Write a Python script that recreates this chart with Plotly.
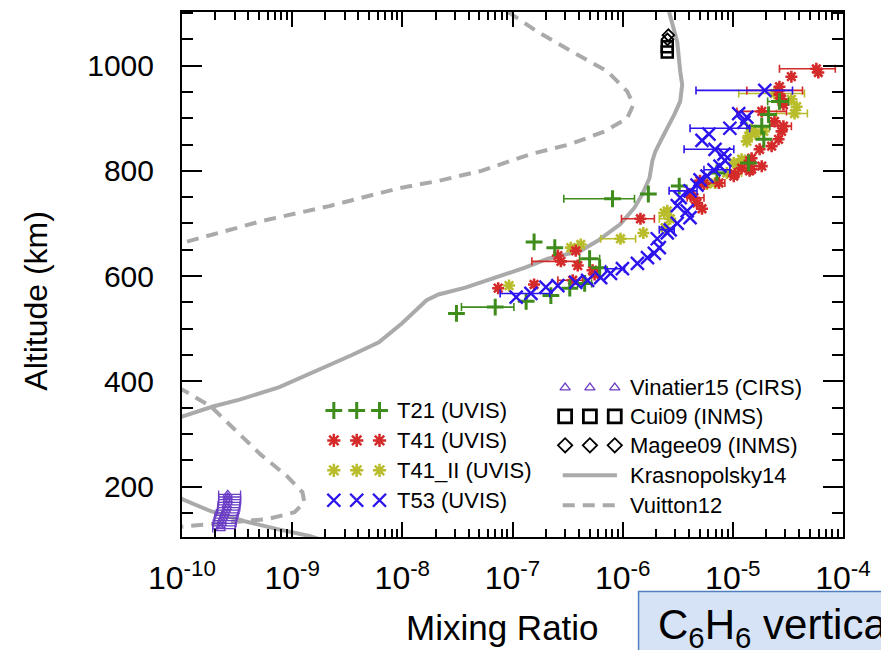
import plotly.graph_objects as go

# ---------------- data (altitude in km, mixing ratio) ----------------
kras_alt = [1102, 1045, 989, 964, 932, 907, 870, 837, 819, 786, 756, 730, 699, 667, 648, 633,
            616, 597, 578, 565, 554, 510, 474, 450, 416, 389, 365, 352, 333, 308, 250,
            176, 153, 134, 119, 106, 90]
kras_mr = [2.64e-6, 3.13e-6, 3.33e-6, 3.47e-6, 3.33e-6, 2.94e-6, 2.38e-6, 1.98e-6, 1.86e-6,
           1.75e-6, 1.51e-6, 1.28e-6, 9.55e-7, 5.93e-7, 4.16e-7, 2.09e-7, 1.30e-7, 6.97e-8,
           3.73e-8, 2.13e-8, 1.66e-8, 9.89e-9, 6.12e-9, 3.49e-9, 1.52e-9, 7.66e-10, 3.33e-10,
           1.91e-10, 1.0e-10, 5.1e-11, 3.0e-11, 1.0e-10, 1.83e-10, 3.71e-10, 7.35e-10,
           1.43e-9, 2.5e-9]

vuit_alt = [1102, 1064, 1026, 989, 951, 926, 900, 875, 851, 832, 800, 781, 767, 733, 705, 662,
            620, 500, 420, 380, 352, 303, 261, 219, 189, 170, 151, 138, 132, 123, 115]
vuit_mr = [9.12e-8, 1.70e-7, 3.52e-7, 7.29e-7, 1.10e-6, 1.25e-6, 1.10e-6, 6.85e-7, 3.38e-7,
           1.47e-7, 5.21e-8, 2.13e-8, 9.29e-9, 2.17e-9, 5.38e-10, 1.0e-10, 1.8e-11, 1.0e-12,
           5.0e-11, 1.09e-10, 1.83e-10, 3.20e-10, 5.16e-10, 9.06e-10, 1.24e-9, 1.29e-9,
           1.05e-9, 5.97e-10, 2.60e-10, 9.2e-11, 5.0e-11]

t21_alt = [529, 541, 552, 563, 577, 586, 616, 633, 654, 665, 747, 756, 771, 796, 815, 860,
           885, 907, 932]
t21_mr = [3.10e-8, 6.97e-8, 1.33e-7, 2.23e-7, 3.31e-7, 4.52e-7, 6.18e-7, 5.01e-7, 2.42e-7,
          1.57e-7, 8.09e-7, 1.71e-6, 3.26e-6, 7.18e-6, 1.39e-5, 1.91e-5, 1.83e-5, 2.11e-5,
          2.65e-5]
t21_lo = [None, 3.44e-8, None, None, None, 3.91e-7, None, 4.07e-7, None, None, 2.92e-7, None,
          None, None, None, None, 1.34e-5, None, 2.07e-5]
t21_hi = [None, 1.03e-7, None, None, None, 5.22e-7, None, 6.18e-7, None, None, 1.28e-6, None,
          None, None, None, None, 2.16e-5, None, 3.20e-5]

t41_alt = [577, 584, 592, 603, 611, 620, 628, 639, 648, 709, 728, 739, 749, 756, 775, 777,
           781, 790, 794, 800, 803, 805, 809, 819, 824, 841, 847, 860, 875, 885, 894, 913,
           926, 936, 945, 953, 960, 979, 987, 994]
t41_mr = [7.41e-8, 1.57e-7, 3.52e-7, 5.56e-7, 5.33e-7, 3.91e-7, 2.75e-7, 2.58e-7, 3.75e-7,
          1.45e-6, 5.25e-6, 4.73e-6, 4.45e-6, 4.09e-6, 5.47e-6, 7.48e-6, 5.04e-6, 1.02e-5,
          1.04e-5, 1.42e-5, 1.48e-5, 1.20e-5, 1.83e-5, 1.42e-5, 1.48e-5, 1.75e-5, 2.25e-5,
          2.60e-5, 2.77e-5, 2.88e-5, 2.39e-5, 1.83e-5, 2.88e-5, 2.77e-5, 2.65e-5, 2.60e-5,
          2.65e-5, 3.40e-5, 5.97e-5, 5.73e-5]
t41_lo = [None, None, 2.58e-7, None, None, None, 1.50e-7, None, None, 9.75e-7, None, None,
          3.85e-6, None, None, 5.47e-6, None, None, None, None, None, None, None, None, None,
          None, None, None, None, 2.16e-5, None, 1.09e-5, None, None, None, 1.34e-5, None,
          None, None, 2.65e-5]
t41_hi = [None, None, 4.33e-7, None, None, None, 4.07e-7, None, None, 1.94e-6, None, None,
          5.47e-6, None, None, 8.47e-6, None, None, None, None, None, None, None, None, None,
          None, None, None, None, 3.40e-5, None, 3.07e-5, None, None, None, 4.29e-5, None,
          None, None, 8.51e-5]

t41ii_alt = [582, 654, 660, 671, 682, 692, 709, 720, 724, 775, 777, 796, 813, 815, 822, 856,
             866, 871, 875, 879, 909, 922, 936, 947]
t41ii_mr = [9.31e-8, 3.38e-7, 4.16e-7, 9.55e-7, 1.54e-6, 2.43e-6, 2.70e-6, 2.38e-6, 2.54e-6,
            5.82e-6, 6.89e-6, 8.83e-6, 1.09e-5, 1.02e-5, 1.20e-5, 1.34e-5, 1.39e-5, 1.60e-5,
            1.91e-5, 1.48e-5, 3.63e-5, 3.79e-5, 3.40e-5, 2.39e-5]
t41ii_lo = [None, None, None, 6.31e-7, None, None, 2.15e-6, None, None, None, None, 7.18e-6,
            None, None, None, None, None, 1.34e-5, None, None, 2.49e-5, None, None, 1.13e-5]
t41ii_hi = [None, None, None, 1.31e-6, None, None, 2.81e-6, None, None, None, None, 1.20e-5,
            None, None, None, None, None, 1.91e-5, None, None, 4.75e-5, None, None, 4.47e-5]

t53_alt = [953, 909, 902, 892, 881, 870, 858, 841, 832, 820, 809, 802, 790, 783, 773, 762,
           749, 734, 724, 711, 700, 688, 682, 671, 654, 643, 635, 624, 614, 605, 597, 592,
           588, 582, 579, 567, 560]
t53_mr = [1.95e-5, 1.13e-5, 1.34e-5, 1.26e-5, 9.40e-6, 6.07e-6, 5.25e-6, 6.89e-6, 8.30e-6,
          8.47e-6, 7.64e-6, 6.75e-6, 5.82e-6, 5.04e-6, 4.73e-6, 4.09e-6, 3.33e-6, 3.13e-6,
          3.85e-6, 4.09e-6, 3.13e-6, 2.70e-6, 2.54e-6, 2.06e-6, 2.15e-6, 1.94e-6, 1.68e-6,
          1.36e-6, 9.95e-7, 7.76e-7, 6.31e-7, 4.81e-7, 3.75e-7, 2.58e-7, 2.01e-7, 1.47e-7,
          1.08e-7]
t53_lo = [4.63e-6, None, None, None, 4.09e-6, None, None, 3.61e-6, None, None, None, 5.47e-6,
          None, None, None, 2.64e-6, None, None, None, None, None, 2.15e-6, None, None, None,
          None, None, None, 7.00e-7, None, None, None, None, None, None, 7.73e-8, None]
t53_hi = [3.48e-5, None, None, None, 1.42e-5, None, None, 1.02e-5, None, None, None, 9.40e-6,
          None, None, None, 4.73e-6, None, None, None, None, None, 2.94e-6, None, None, None,
          None, None, None, 1.04e-6, None, None, None, None, None, None, 2.18e-7, None]

vin_alt = [120, 125, 130, 135, 140, 145, 150, 155, 160, 165, 170, 175, 180, 185]
vin_mr = [2.25e-10, 2.25e-10, 2.3e-10, 2.3e-10, 2.35e-10, 2.4e-10, 2.45e-10, 2.5e-10,
          2.55e-10, 2.55e-10, 2.6e-10, 2.6e-10, 2.6e-10, 2.6e-10]
vin_lo = [1.9e-10, 1.9e-10, 1.92e-10, 1.95e-10, 1.98e-10, 2.0e-10, 2.05e-10, 2.1e-10,
          2.12e-10, 2.12e-10, 2.15e-10, 2.15e-10, 2.15e-10, 2.15e-10]
vin_hi = [3.05e-10, 3.05e-10, 3.1e-10, 3.1e-10, 3.15e-10, 3.2e-10, 3.25e-10, 3.3e-10,
          3.35e-10, 3.35e-10, 3.4e-10, 3.4e-10, 3.4e-10, 3.4e-10]

cui_alt = [1036, 1026]
cui_mr = [2.54e-6, 2.54e-6]
magee_alt = [1058, 1050]
magee_mr = [2.6e-6, 2.55e-6]

x_decades = [-10, -9, -8, -7, -6, -5, -4]

# ---------------- styling ----------------
FONT = "Liberation Sans, Arial, sans-serif"
GREEN = "#3d8c1c"
RED = "#d42a2a"
YELLOW = "#b9bd2b"
BLUE = "#2c14ee"
PURPLE = "#6b3dc6"
GRAY = "#aaaaaa"

fig = go.Figure()

# model curves
fig.add_trace(go.Scatter(x=kras_mr, y=kras_alt, mode="lines",
                         line=dict(color=GRAY, width=4), showlegend=False, hoverinfo="skip"))
fig.add_trace(go.Scatter(x=vuit_mr, y=vuit_alt, mode="lines",
                         line=dict(color=GRAY, width=4, dash="12px,8px"),
                         showlegend=False, hoverinfo="skip"))


def add_series(alt, mr, lo, hi, color, symbol, size, lw, cap=4, thick=1.6):
    ea, em, ep, emn = [], [], [], []
    for a, m, l, h in zip(alt, mr, lo, hi):
        if l is not None:
            ea.append(a)
            em.append(m)
            ep.append(h - m)
            emn.append(m - l)
    if ea:
        fig.add_trace(go.Scatter(x=em, y=ea, mode="markers",
                                 marker=dict(size=1, opacity=0, color=color),
                                 error_x=dict(type="data", array=ep, arrayminus=emn,
                                              color=color, thickness=thick, width=cap),
                                 showlegend=False, hoverinfo="skip"))
    fig.add_trace(go.Scatter(x=mr, y=alt, mode="markers",
                             marker=dict(symbol=symbol, size=size, color=color,
                                         line=dict(color=color, width=lw)),
                             showlegend=False))


add_series(vin_alt, vin_mr, vin_lo, vin_hi, PURPLE, "triangle-up-open", 8, 1.3, cap=4, thick=1.3)
add_series(t41ii_alt, t41ii_mr, t41ii_lo, t41ii_hi, YELLOW, "asterisk-open", 10, 2.6)
add_series(t41_alt, t41_mr, t41_lo, t41_hi, RED, "asterisk-open", 10, 2.6)
add_series(t21_alt, t21_mr, t21_lo, t21_hi, GREEN, "cross-thin-open", 12, 3)
add_series(t53_alt, t53_mr, t53_lo, t53_hi, BLUE, "x-thin-open", 13, 2.4)

fig.add_trace(go.Scatter(x=cui_mr, y=cui_alt, mode="markers",
                         marker=dict(symbol="square-open", size=11, color="black",
                                     line=dict(color="black", width=2.5)),
                         showlegend=False))
fig.add_trace(go.Scatter(x=magee_mr, y=magee_alt, mode="markers",
                         marker=dict(symbol="diamond-open", size=9, color="black",
                                     line=dict(color="black", width=1.8)),
                         showlegend=False))

# ---------------- custom legend (paper-like overlay axes) ----------------
LEG_SIZE = 22
left_entries = [
    ("T21 (UVIS)", GREEN, "cross-thin-open", 12, 3),
    ("T41 (UVIS)", RED, "asterisk-open", 11, 2.5),
    ("T41_II (UVIS)", YELLOW, "asterisk-open", 11, 2.5),
    ("T53 (UVIS)", BLUE, "x-thin-open", 13, 2.4),
]
left_rows = [0.241, 0.184, 0.127, 0.070]
left_sym_x = [0.2297, 0.2643, 0.2988]
left_text_x = 0.322

for (label, col, sym, sz, lw), yy in zip(left_entries, left_rows):
    fig.add_trace(go.Scatter(x=left_sym_x, y=[yy] * 3, xaxis="x2", yaxis="y2", mode="markers",
                             marker=dict(symbol=sym, size=sz, color=col, line=dict(color=col, width=lw)),
                             showlegend=False, hoverinfo="skip"))
    fig.add_annotation(x=left_text_x, y=yy, xref="paper", yref="paper", text=label,
                       showarrow=False, xanchor="left", yanchor="middle",
                       font=dict(family=FONT, size=LEG_SIZE, color="black"))

right_entries = [
    ("Vinatier15 (CIRS)", PURPLE, "triangle-up-open", 9, 1.3),
    ("Cui09 (INMS)", "black", "square-open", 13, 2.8),
    ("Magee09 (INMS)", "black", "diamond-open", 11, 1.8),
]
right_rows = [0.2846, 0.2296, 0.1746, 0.1176, 0.0607]
right_sym_x = [0.5796, 0.6171, 0.6547]
right_text_x = 0.675

for (label, col, sym, sz, lw), yy in zip(right_entries, right_rows[:3]):
    fig.add_trace(go.Scatter(x=right_sym_x, y=[yy] * 3, xaxis="x2", yaxis="y2", mode="markers",
                             marker=dict(symbol=sym, size=sz, color=col, line=dict(color=col, width=lw)),
                             showlegend=False, hoverinfo="skip"))
    fig.add_annotation(x=right_text_x, y=yy, xref="paper", yref="paper", text=label,
                       showarrow=False, xanchor="left", yanchor="middle",
                       font=dict(family=FONT, size=LEG_SIZE, color="black"))

for (label, dash), yy in zip([("Krasnopolsky14", "solid"), ("Vuitton12", "12px,8px")], right_rows[3:]):
    fig.add_trace(go.Scatter(x=[0.576, 0.658], y=[yy, yy], xaxis="x2", yaxis="y2", mode="lines",
                             line=dict(color=GRAY, width=4, dash=dash),
                             showlegend=False, hoverinfo="skip"))
    fig.add_annotation(x=right_text_x, y=yy, xref="paper", yref="paper", text=label,
                       showarrow=False, xanchor="left", yanchor="middle",
                       font=dict(family=FONT, size=LEG_SIZE, color="black"))

# ---------------- axes ----------------
minor_x = [m * 10.0 ** d for d in x_decades[:-1] for m in range(2, 10)]
major_y = [200, 400, 600, 800, 1000]
minor_y = [v for v in range(150, 1101, 50) if v not in major_y]

fig.update_layout(
    width=881, height=650,
    margin=dict(l=182, r=33, t=10, b=113),
    paper_bgcolor="white", plot_bgcolor="white",
    font=dict(family=FONT, color="black"),
    showlegend=False,
    xaxis=dict(type="log", range=[-10, -4],
               tickmode="array",
               tickvals=[10.0 ** d for d in x_decades],
               ticktext=["10<sup>%d</sup>" % d for d in x_decades],
               ticks="inside", ticklen=15, tickwidth=1.8, tickcolor="black",
               showline=True, linewidth=2, linecolor="black", mirror="ticks",
               showgrid=False, zeroline=False,
               tickfont=dict(family=FONT, size=32, color="black"),
               ticklabelstandoff=12,
               minor=dict(tickmode="array", tickvals=minor_x, ticks="inside",
                          ticklen=8, tickwidth=1.5, tickcolor="black", showgrid=False)),
    yaxis=dict(range=[104, 1102], tickmode="array", tickvals=major_y,
               ticks="inside", ticklen=20, tickwidth=1.8, tickcolor="black",
               showline=True, linewidth=2, linecolor="black", mirror="ticks",
               showgrid=False, zeroline=False,
               tickfont=dict(family=FONT, size=30, color="black"),
               ticklabelstandoff=20,
               minor=dict(tickmode="array", tickvals=minor_y, ticks="inside",
                          ticklen=11, tickwidth=1.5, tickcolor="black", showgrid=False)),
    xaxis2=dict(domain=[0, 1], range=[0, 1], visible=False, overlaying="x", anchor="y2"),
    yaxis2=dict(domain=[0, 1], range=[0, 1], visible=False, overlaying="y", anchor="x2"),
)

# axis titles
fig.add_annotation(x=-0.221, y=0.45, xref="paper", yref="paper", text="Altitude (km)",
                   textangle=-90, showarrow=False, xanchor="center", yanchor="middle",
                   font=dict(family=FONT, size=32, color="black"))
fig.add_annotation(x=0.485, y=-0.173, xref="paper", yref="paper", text="Mixing Ratio",
                   showarrow=False, xanchor="center", yanchor="middle",
                   font=dict(family=FONT, size=35, color="black"))

# caption box (partially outside the page, as in the reference)
fig.add_shape(type="rect", xref="paper", yref="paper", x0=0.6907, x1=1.2, y0=-0.104, y1=-0.3,
              fillcolor="#d6e3f6", line=dict(color="#4f7fbf", width=1.5), layer="above")
fig.add_annotation(x=0.7177, y=-0.172, xref="paper", yref="paper",
                   text="C<sub>6</sub>H<sub>6</sub> vertical",
                   showarrow=False, xanchor="left", yanchor="middle",
                   font=dict(family=FONT, size=42, color="black"))

fig.write_html("out.html")
